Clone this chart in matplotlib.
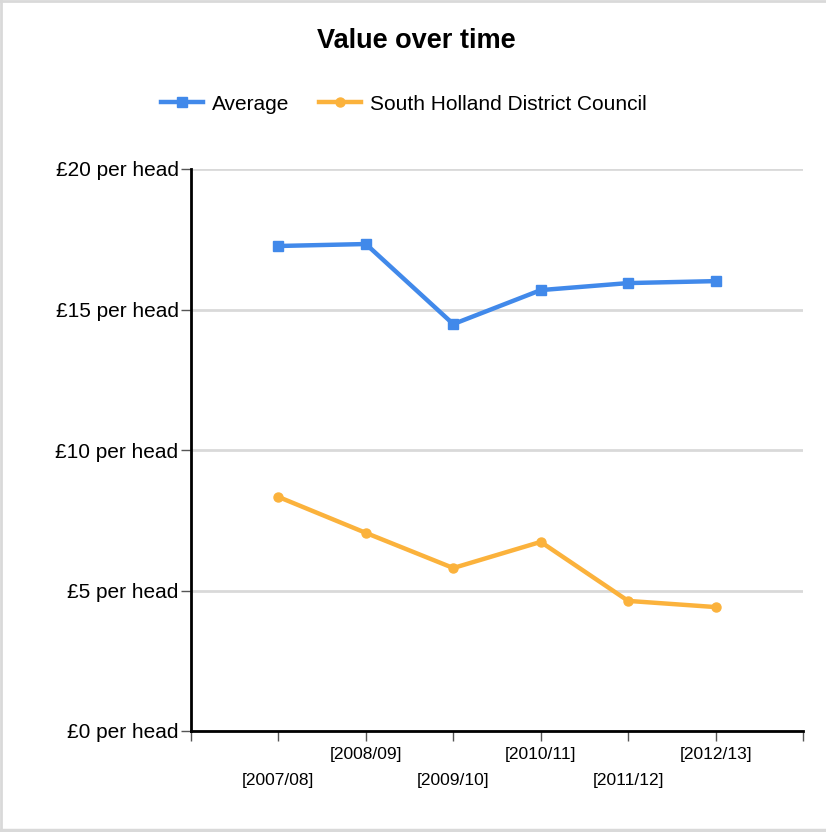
import matplotlib
matplotlib.use("Agg")
import matplotlib.pyplot as plt
from matplotlib.lines import Line2D

plt.rcParams['font.family'] = ['Liberation Sans', 'DejaVu Sans']

years = ["2007/08", "2008/09", "2009/10", "2010/11", "2011/12", "2012/13"]
average = [17.26, 17.33, 14.48, 15.69, 15.94, 16.01]
south_holland = [8.33, 7.05, 5.80, 6.73, 4.63, 4.41]
y_ticks = [0, 5, 10, 15, 20]
y_labels = ["£0 per head", "£5 per head", "£10 per head", "£15 per head", "£20 per head"]

W, H = 826, 832
fig = plt.figure(figsize=(W / 100, H / 100), dpi=100)
ax = fig.add_axes([191 / W, 101 / H, (803 - 191) / W, (731 - 169) / H])

xs = list(range(1, len(years) + 1))
ax.plot(xs, average, color="#4189ea", lw=3.2, marker="s", ms=7.5, label="Average", zorder=3)
ax.plot(xs, south_holland, color="#fbb23c", lw=3.2, marker="o", ms=6.5,
        label="South Holland District Council", zorder=3)

ax.set_xlim(0, len(years) + 1)
ax.set_ylim(0, 20)
ax.set_yticks(y_ticks)
ax.set_yticklabels(y_labels, fontsize=15)
ax.yaxis.grid(True, color="#d9d9d9", lw=2)
ax.set_axisbelow(True)

ax.set_xticks(range(0, len(years) + 2))
ax.set_xticklabels([""] * (len(years) + 2))
ax.tick_params(axis="x", length=7, color="#555555", width=1)
ax.tick_params(axis="y", length=7, color="#555555", width=1, pad=2)
for i, (x, lab) in enumerate(zip(xs, years)):
    off = -50 if i % 2 == 0 else -23
    ax.annotate("[" + lab + "]", xy=(x, 0), xycoords="data", xytext=(0, off),
                textcoords="offset pixels", ha="center", va="center", fontsize=12.5)

for s in ["top", "right"]:
    ax.spines[s].set_visible(False)
ax.spines["left"].set_linewidth(2)
ax.spines["bottom"].set_linewidth(2)

fig.text(416 / W, 1 - 41 / H, "Value over time", ha="center", va="center",
         fontsize=19.5, fontweight="bold")
leg = fig.legend(loc="center", bbox_to_anchor=(404 / W, 1 - 104 / H), ncol=2,
                 frameon=False, fontsize=15, handlelength=2.0, columnspacing=1.4,
                 handletextpad=0.45, markerscale=1.0)

bc = "#d9d9d9"
fig.add_artist(Line2D([1 / W, 1 / W], [0, 1], transform=fig.transFigure, color=bc, lw=2))
fig.add_artist(Line2D([0, 1], [1 - 1 / H, 1 - 1 / H], transform=fig.transFigure, color=bc, lw=2))
fig.add_artist(Line2D([0, 1], [2.5 / H, 2.5 / H], transform=fig.transFigure, color=bc, lw=2.5))

fig.savefig("out.png", dpi=100)
